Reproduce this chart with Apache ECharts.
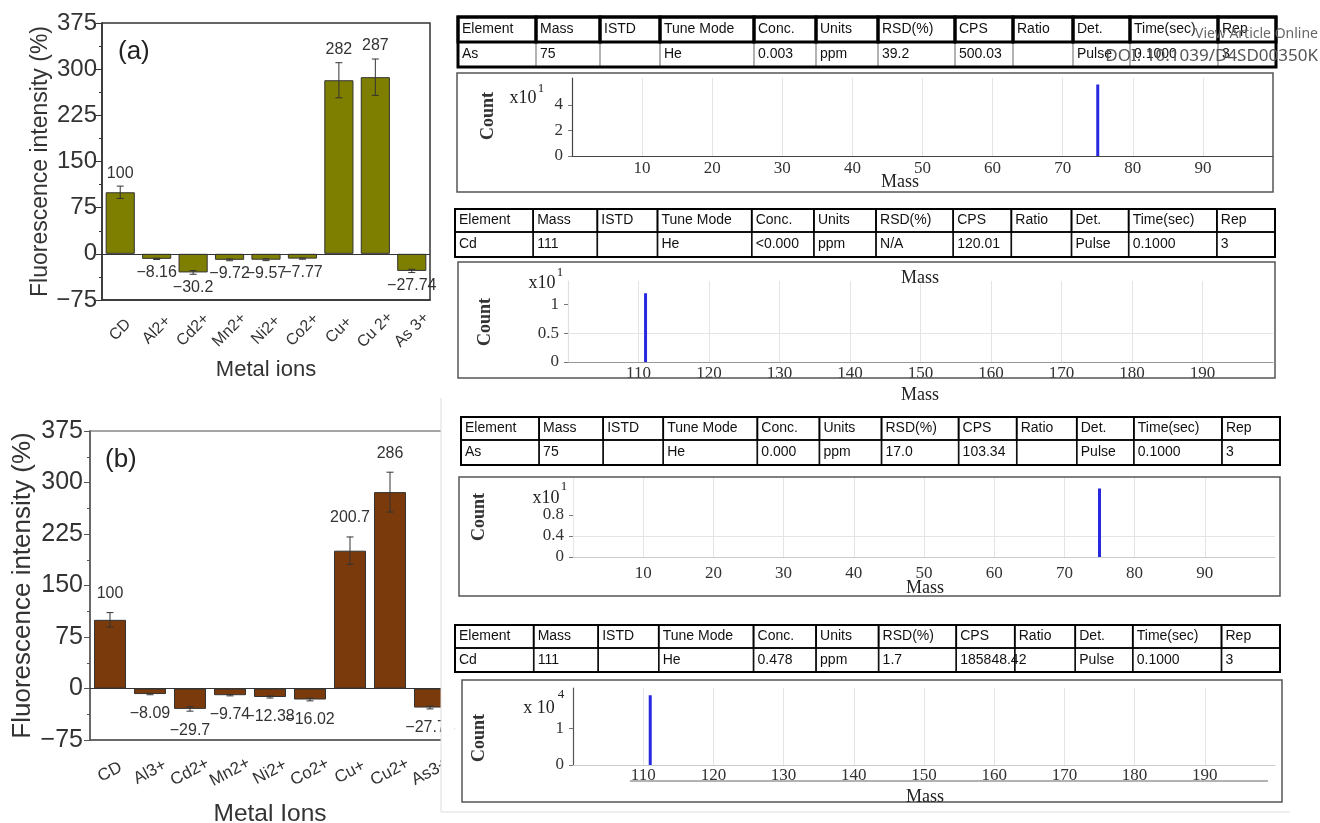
<!DOCTYPE html>
<html>
<head>
<meta charset="utf-8">
<script src="https://cdn.jsdelivr.net/npm/echarts@6/dist/echarts.min.js"></script>
<style>
html, body { margin: 0; padding: 0; background: #fff; }
#chart { width: 1320px; height: 823px; }
</style>
</head>
<body>
<div id="chart"></div>
<script>
// fluorescence response to metal ions, panel (a) and (b)
var ionsA = ['CD', 'Al2+', 'Cd2+', 'Mn2+', 'Ni2+', 'Co2+', 'Cu+', 'Cu 2+', 'As 3+'];
var valuesA = [100, -8.16, -30.2, -9.72, -9.57, -7.77, 282, 287, -27.74];
var errorsA = [10, 1, 3, 1.5, 1.5, 1, 28.5, 29.5, 2.7];

var ionsB = ['CD', 'Al3+', 'Cd2+', 'Mn2+', 'Ni2+', 'Co2+', 'Cu+', 'Cu2+', 'As3+'];
var valuesB = [100, -8.09, -29.7, -9.74, -12.38, -16.02, 200.7, 286, -27.74];
var errorsB = [10.5, 1, 3.3, 1, 1.5, 2, 20, 29, 2];

// ICP-MS spectra, [mass, count]
var peakAs1 = [[75, 0], [75, 5.6]];
var peakCd1 = [[111, 0], [111, 1.19]];
var peakAs2 = [[75, 0], [75, 1.3]];
var peakCd2 = [[111, 0], [111, 1.9]];
var countTicks1 = [0, 2, 4];
var countTicks2 = [0, 0.5, 1];
var countTicks3 = [0, 0.4, 0.8];
var countTicks4 = [0, 1];

// ICP-MS result tables
var tableHeader = ['Element', 'Mass', 'ISTD', 'Tune Mode', 'Conc.', 'Units', 'RSD(%)', 'CPS', 'Ratio', 'Det.', 'Time(sec)', 'Rep'];
var rowAs1 = ['As', '75', '', 'He', '0.003', 'ppm', '39.2', '500.03', '', 'Pulse', '0.1000', '3'];
var rowCd1 = ['Cd', '111', '', 'He', '<0.000', 'ppm', 'N/A', '120.01', '', 'Pulse', '0.1000', '3'];
var rowAs2 = ['As', '75', '', 'He', '0.000', 'ppm', '17.0', '103.34', '', 'Pulse', '0.1000', '3'];
var rowCd2 = ['Cd', '111', '', 'He', '0.478', 'ppm', '1.7', '185848.42', '', 'Pulse', '0.1000', '3'];

var SANS = '"Liberation Sans", Arial, sans-serif';
var SERIF = '"Liberation Serif", "Times New Roman", serif';
var colW = [78, 64, 60, 94, 62, 62, 77, 58, 60, 57, 88, 58];

function minus(v) { return v < 0 ? '\u2212' + Math.abs(v) : String(v); }

function errorSeries(xi, yi, vals, errs, gap) {
  return {
    type: 'custom', xAxisIndex: xi, yAxisIndex: yi, z: 3, silent: true,
    data: vals.map(function (v, i) { return [i, v, errs[i]]; }),
    renderItem: function (params, api) {
      var i = api.value(0), v = api.value(1), e = api.value(2);
      var lo = api.coord([i, v - e]), hi = api.coord([i, v + e]);
      var x = lo[0], w = 3.5;
      var ty = v >= 0 ? hi[1] - gap : lo[1] + gap;
      var st = { stroke: '#333', lineWidth: 1 };
      return { type: 'group', children: [
        { type: 'line', shape: { x1: x, y1: lo[1], x2: x, y2: hi[1] }, style: st },
        { type: 'line', shape: { x1: x - w, y1: lo[1], x2: x + w, y2: lo[1] }, style: st },
        { type: 'line', shape: { x1: x - w, y1: hi[1], x2: x + w, y2: hi[1] }, style: st },
        { type: 'text', x: x, y: ty, style: { text: minus(v), font: '16px ' + SANS, fill: '#333', textAlign: 'center', textVerticalAlign: 'middle' } }
      ]};
    }
  };
}

function barAxisX(grid, data, rotate, labelSize, margin, name, nameSize, nameGap, lineColor) {
  return [{
    gridIndex: grid, type: 'category', data: data,
    axisLine: { onZero: false, lineStyle: { color: lineColor, width: 1.5 } },
    axisTick: { alignWithLabel: true, length: 7, lineStyle: { color: lineColor } },
    axisLabel: { rotate: rotate, fontSize: labelSize, fontFamily: SANS, color: '#333', margin: margin,
      align: 'center', verticalAlign: 'middle', interval: 0 },
    name: name, nameLocation: 'middle', nameGap: nameGap,
    nameTextStyle: { fontSize: nameSize, fontFamily: SANS, color: '#333' }
  }, {
    gridIndex: grid, type: 'category', data: data, position: 'bottom',
    axisLine: { show: false, onZero: false },
    axisTick: { length: 4, lineStyle: { color: lineColor } },
    axisLabel: { show: false }
  }];
}

function barAxisY(grid, labelSize, margin, nameSize, nameGap, lineColor) {
  return {
    gridIndex: grid, type: 'value', min: -75, max: 375, interval: 75,
    axisLine: { show: true, lineStyle: { color: lineColor, width: 1.5 } },
    axisTick: { show: true, length: 6, lineStyle: { color: lineColor } },
    minorTick: { show: true, splitNumber: 2, length: 3, lineStyle: { color: lineColor } },
    splitLine: { show: false },
    axisLabel: { fontSize: labelSize, fontFamily: SANS, color: '#333', margin: margin, formatter: minus },
    name: 'Fluorescence intensity (%)', nameLocation: 'middle', nameGap: nameGap,
    nameTextStyle: { fontSize: nameSize, fontFamily: SANS, color: '#333' }
  };
}

function massAxis(grid, min, max, lineColor, margin) {
  return {
    gridIndex: grid, type: 'value', min: min, max: max, interval: 10,
    axisLine: { show: true, onZero: false, lineStyle: { color: lineColor, width: 1.2 } },
    axisTick: { show: false },
    axisLabel: { showMinLabel: false, showMaxLabel: false, fontSize: 17, fontFamily: SERIF, color: '#333', margin: margin },
    splitLine: { show: true, showMinLine: false, showMaxLine: false, lineStyle: { color: '#e4e4e4' } }
  };
}

function countAxis(grid, max, interval, ticks, lineColor, split) {
  return {
    gridIndex: grid, type: 'value', min: 0, max: max, interval: interval,
    axisLine: { show: true, lineStyle: { color: lineColor, width: 1.2 } },
    axisTick: { show: true, length: 4, customValues: ticks, lineStyle: { color: '#777' } },
    axisLabel: { customValues: ticks, fontSize: 17, fontFamily: SERIF, color: '#333', margin: 9 },
    splitLine: { show: split, showMinLine: false, showMaxLine: false, lineStyle: { color: '#e4e4e4' } }
  };
}

function peakSeries(xi, yi, data) {
  return {
    type: 'line', xAxisIndex: xi, yAxisIndex: yi, data: data, symbol: 'none', silent: true,
    lineStyle: { color: '#2828e0', width: 3 }
  };
}

function zeroLine() {
  return { silent: true, symbol: 'none', label: { show: false }, data: [{ yAxis: 0 }],
    lineStyle: { color: '#333', width: 1, type: 'solid' } };
}

function txt(x, y, s, font, opts) {
  opts = opts || {};
  return { type: 'text', x: x, y: y, rotation: opts.rot || 0, z: 50,
    style: { text: s, font: font, fill: opts.fill || '#222', textAlign: opts.align || 'center', textVerticalAlign: 'middle' } };
}

function table(x0, y0, width, rowH, row, heavy) {
  var out = [], k = width / 818, x = x0;
  var hy = y0, dy = y0 + rowH[0], h2 = rowH[1];
  colW.forEach(function (w0, i) {
    var w = w0 * k;
    out.push({ type: 'rect', z: 20, shape: { x: x, y: hy, width: w, height: rowH[0] },
      style: { fill: 'none', stroke: '#000', lineWidth: heavy ? 3 : 1.6 } });
    out.push({ type: 'rect', z: 19, shape: { x: x, y: dy, width: w, height: h2 },
      style: { fill: 'none', stroke: heavy ? '#999' : '#111', lineWidth: heavy ? 1 : 1.4 } });
    out.push(txt(x + 4, hy + rowH[0] / 2, tableHeader[i], '14px ' + SANS, { align: 'left', fill: '#111' }));
    out.push(txt(x + 4, dy + h2 / 2, row[i], '14px ' + SANS, { align: 'left', fill: '#111' }));
    x += w;
  });
  out.push({ type: 'rect', z: 21, shape: { x: x0, y: y0, width: width, height: rowH[0] + h2 },
    style: { fill: 'none', stroke: '#000', lineWidth: heavy ? 3 : 2 } });
  return out;
}

function box(x, y, w, h) {
  return { type: 'rect', z: 1, shape: { x: x, y: y, width: w, height: h },
    style: { fill: 'none', stroke: '#555', lineWidth: 1.5 } };
}

var F18 = '18px ' + SERIF, F18B = 'bold 18px ' + SERIF, F12 = '13px ' + SERIF;

var graphics = []
  .concat(table(458, 17, 818, [25, 25], rowAs1, true))
  .concat(table(455, 209, 820, [23, 25], rowCd1, false))
  .concat(table(461, 417, 819, [23, 25], rowAs2, false))
  .concat(table(455, 625, 825, [23, 24], rowCd2, false))
  .concat([
    box(457, 73, 816, 119), box(458, 262, 817, 116), box(459, 477, 821, 119), box(462, 680, 820, 122),
    txt(488, 116, 'Count', F18B, { rot: Math.PI / 2, fill: '#333' }),
    txt(523, 98, 'x10', F18), txt(541, 89, '1', F12),
    txt(900, 182, 'Mass', F18),
    txt(485, 322, 'Count', F18B, { rot: Math.PI / 2, fill: '#333' }),
    txt(542, 283, 'x10', F18), txt(560, 273, '1', F12),
    txt(920, 278, 'Mass', F18), txt(920, 395, 'Mass', F18),
    txt(479, 517, 'Count', F18B, { rot: Math.PI / 2, fill: '#333' }),
    txt(546, 498, 'x10', F18), txt(564, 487, '1', F12),
    txt(925, 588, 'Mass', F18),
    txt(479, 738, 'Count', F18B, { rot: Math.PI / 2, fill: '#333' }),
    txt(539, 708, 'x 10', F18), txt(561, 695, '4', F12),
    txt(925, 797, 'Mass', F18),
    { type: 'line', z: 2, shape: { x1: 630, y1: 781, x2: 1268, y2: 781 }, style: { stroke: '#666', lineWidth: 1 } },
    txt(118, 52, '(a)', '26px ' + SANS, { align: 'left' }),
    txt(105, 460, '(b)', '26px ' + SANS, { align: 'left' }),
    // right edge of panel (b) is cut off in the figure
    { type: 'rect', zlevel: 1, z: 60, shape: { x: 441, y: 400, width: 13, height: 423 }, style: { fill: '#fff' } },
    { type: 'line', zlevel: 1, z: 61, shape: { x1: 441, y1: 398, x2: 441, y2: 812 }, style: { stroke: '#ddd', lineWidth: 1 } },
    { type: 'line', zlevel: 1, z: 61, shape: { x1: 441, y1: 812, x2: 1290, y2: 812 }, style: { stroke: '#ddd', lineWidth: 1 } },
    txt(1318, 34, 'View Article Online', '14px "Noto Sans", sans-serif', { align: 'right', fill: '#666' }),
    txt(1318, 56, 'DOI: 10.1039/D4SD00350K', '17px "Noto Sans", sans-serif', { align: 'right', fill: '#555' })
  ]);

var option = {
  animation: false,
  backgroundColor: '#fff',
  grid: [
    { left: 102, top: 23, width: 328, height: 277, show: true, borderColor: '#333', borderWidth: 1.5, outerBoundsMode: 'none' },
    { left: 90, top: 431, width: 360, height: 309, show: true, borderColor: '#888', borderWidth: 1.5, outerBoundsMode: 'none' },
    { left: 572, top: 78, width: 701, height: 78, outerBoundsMode: 'none' },
    { left: 568, top: 281, width: 705, height: 81, outerBoundsMode: 'none' },
    { left: 573, top: 478, width: 702, height: 79, outerBoundsMode: 'none' },
    { left: 573, top: 688, width: 702, height: 77, outerBoundsMode: 'none' }
  ],
  xAxis: []
    .concat(barAxisX(0, ionsA, 45, 16, 30, 'Metal ions', 22, 59, '#333'))
    .concat(barAxisX(1, ionsB, 28, 17, 32, 'Metal Ions', 24.5, 62, '#555'))
    .concat([
      massAxis(2, 0, 100, '#444', 4),
      massAxis(3, 100, 200, '#999', 3),
      massAxis(4, 0, 100, '#ccc', 8),
      massAxis(5, 100, 200, '#ccc', 2)
    ]),
  yAxis: [
    barAxisY(0, 24, 5, 23, 48, '#333'),
    barAxisY(1, 25, 7, 26, 54, '#555'),
    countAxis(2, 6.1, 2, countTicks1, '#444', false),
    countAxis(3, 1.4, 0.5, countTicks2, '#e0e0e0', true),
    countAxis(4, 1.5, 1, countTicks3, '#e8e8e8', true),
    countAxis(5, 2.1, 1, countTicks4, '#555', false)
  ],
  series: [
    { type: 'bar', xAxisIndex: 0, yAxisIndex: 0, data: valuesA, barWidth: '80%',
      itemStyle: { color: '#7e7e00', borderColor: '#333', borderWidth: 1 }, markLine: zeroLine() },
    errorSeries(0, 0, valuesA, errorsA, 13),
    { type: 'bar', xAxisIndex: 2, yAxisIndex: 1, data: valuesB, barWidth: '80%',
      itemStyle: { color: '#7a3a0b', borderColor: '#333', borderWidth: 1 }, markLine: zeroLine() },
    errorSeries(2, 1, valuesB, errorsB, 19),
    peakSeries(4, 2, peakAs1),
    peakSeries(5, 3, peakCd1),
    peakSeries(6, 4, peakAs2),
    peakSeries(7, 5, peakCd2)
  ],
  graphic: graphics
};

var chart = echarts.init(document.getElementById('chart'));
chart.setOption(option);
window.addEventListener('resize', function () { chart.resize(); });
</script>
</body>
</html>
